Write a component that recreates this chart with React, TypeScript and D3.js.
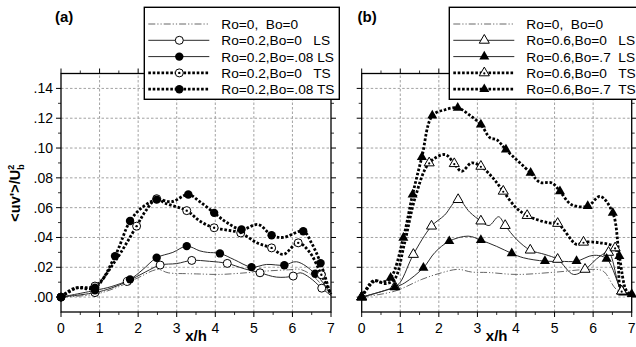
import React from 'react';
import * as d3 from 'd3';

// [x/h, <uv'>/Ub^2, marker flag]
type P = [number, number, number?];

const xTickValues = [0, 1, 2, 3, 4, 5, 6, 7];
const xMinorValues = [0.5, 1.5, 2.5, 3.5, 4.5, 5.5, 6.5];
const yTickValues = [0, 0.02, 0.04, 0.06, 0.08, 0.1, 0.12, 0.14];
const yMinorValues = [0.01, 0.03, 0.05, 0.07, 0.09, 0.11, 0.13];
const yTickLabels = ['.00', '.02', '.04', '.06', '.08', '.10', '.12', '.14'];

// Panel (a)
const aRo0Bo0: P[] = [
  [0, 0], [0.9, 0.002], [1.5, 0.007], [2.0, 0.013], [2.5, 0.0185], [2.78, 0.0163],
  [3.3, 0.0157], [3.6, 0.0155], [4.1, 0.0152], [4.64, 0.016], [5.33, 0.0175],
  [5.9, 0.0183], [6.2, 0.0186], [6.54, 0.014], [6.8, 0.007], [7, 0.002],
];
const aRo02Bo0LS: P[] = [
  [0, 0, 1], [0.88, 0.003, 1], [1.3, 0.006], [1.72, 0.0105, 1], [2.2, 0.017],
  [2.57, 0.0215, 1], [3.0, 0.0225], [3.39, 0.0246, 1], [3.85, 0.024], [4.31, 0.0226, 1],
  [4.75, 0.019], [5.16, 0.0163, 1], [5.59, 0.0134], [6.02, 0.0141, 1], [6.2, 0.0163],
  [6.45, 0.013], [6.76, 0.006, 1], [7, 0.001],
];
const aRo02Bo08LS: P[] = [
  [0, 0, 1], [0.88, 0.0045, 1], [1.3, 0.007], [1.79, 0.0119, 1], [2.1, 0.018],
  [2.48, 0.0264, 1], [2.9, 0.03], [3.26, 0.0342, 1], [3.6, 0.031], [3.8, 0.03],
  [4.12, 0.0293, 1], [4.5, 0.025], [4.94, 0.0201, 1], [5.33, 0.0219], [5.79, 0.0214, 1],
  [6.11, 0.0237], [6.59, 0.0157, 1], [7, 0.002],
];
const aRo02Bo0TS: P[] = [
  [0, 0, 1], [0.4, 0.006], [0.88, 0.0074, 1], [1.4, 0.024], [1.96, 0.0476, 1],
  [2.2, 0.058], [2.48, 0.066, 1], [2.7, 0.063], [3.26, 0.058, 1], [3.6, 0.051],
  [3.97, 0.0465, 1], [4.3, 0.045], [4.66, 0.043, 1], [5.08, 0.0364], [5.46, 0.033, 1],
  [5.76, 0.0286], [6.15, 0.0364, 1], [6.45, 0.03], [6.75, 0.015, 1], [7, 0.002],
];
const aRo02Bo08TS: P[] = [
  [0, 0, 1], [0.35, 0.006], [0.88, 0.0063, 1], [1.4, 0.0275, 1], [1.79, 0.051, 1],
  [2.1, 0.06], [2.48, 0.0654, 1], [2.87, 0.064], [3.3, 0.0688, 1], [3.6, 0.064],
  [3.97, 0.0565, 1], [4.3, 0.05], [4.68, 0.0453, 1], [5.11, 0.0487], [5.46, 0.0415, 1],
  [5.76, 0.04], [6.28, 0.0442, 1], [6.5, 0.036], [6.73, 0.0228, 1], [6.97, 0.003],
];

// Panel (b)
const bRo0Bo0: P[] = [
  [0, 0], [0.86, 0.004], [1.56, 0.0119], [2.07, 0.0163], [2.5, 0.0186], [2.85, 0.0168],
  [3.28, 0.0165], [4.02, 0.0152], [5.05, 0.0168], [5.92, 0.0186], [6.26, 0.0174],
  [6.61, 0.005], [7, 0.001],
];
const bRo06Bo0LS: P[] = [
  [0, 0, 1], [0.86, 0.007, 1], [1.0, 0.01], [1.34, 0.0286, 1], [1.81, 0.0476, 1],
  [2.15, 0.055], [2.5, 0.0654, 1], [2.8, 0.057], [3.09, 0.051, 1], [3.3, 0.048],
  [3.55, 0.0539], [3.72, 0.048, 1], [4.02, 0.0386], [4.37, 0.0315, 1], [4.75, 0.0286],
  [5.08, 0.0253, 1], [5.49, 0.0152], [5.79, 0.0186, 1], [6.18, 0.0275], [6.4, 0.03, 1],
  [6.74, 0.004, 1], [7, 0.002],
];
const bRo06Bo7LS: P[] = [
  [0, 0, 1], [0.86, 0.0065, 1], [1.12, 0.0096], [1.6, 0.0197, 1], [1.9, 0.03],
  [2.27, 0.0375, 1], [2.76, 0.0409], [3.09, 0.0382, 1], [3.5, 0.034], [3.89, 0.0293, 1],
  [4.19, 0.0264], [4.75, 0.0241, 1], [5.15, 0.024], [5.57, 0.0241, 1], [6.0, 0.028],
  [6.35, 0.0257, 1], [6.78, 0.003, 1], [7, 0.001],
];
const bRo06Bo0TS: P[] = [
  [0, 0, 1], [0.35, 0.011], [0.6, 0.009], [0.85, 0.012], [1.1, 0.035], [1.4, 0.068],
  [1.75, 0.09, 1], [2.16, 0.0956], [2.4, 0.0895, 1], [2.59, 0.0844], [2.85, 0.09],
  [3.09, 0.0877, 1], [3.4, 0.08], [3.67, 0.071, 1], [4.0, 0.06], [4.29, 0.0547, 1],
  [4.84, 0.0498], [5.08, 0.0494, 1], [5.57, 0.0353], [5.75, 0.0368, 1], [6.18, 0.0364],
  [6.57, 0.033, 1], [6.74, 0.004, 1], [7, 0.002],
];
const bRo06Bo7TS: P[] = [
  [0, 0, 1], [0.3, 0.011], [0.5, 0.01], [0.75, 0.013, 1], [1.08, 0.0398, 1],
  [1.32, 0.0688, 1], [1.56, 0.094, 1], [1.83, 0.1217, 1], [2.16, 0.1257],
  [2.49, 0.1269, 1], [2.8, 0.122], [3.09, 0.1157, 1], [3.33, 0.1068], [3.5, 0.1056],
  [3.74, 0.0989, 1], [4.38, 0.0833, 1], [4.62, 0.077], [4.93, 0.0766], [5.14, 0.071, 1],
  [5.44, 0.062], [5.86, 0.061, 1], [6.18, 0.0676], [6.51, 0.0565, 1], [6.68, 0.0275, 1],
  [6.87, 0.004], [7, 0.002, 1],
];

const legendA = ['Ro=0,  Bo=0', 'Ro=0.2,Bo=0   LS', 'Ro=0.2,Bo=.08 LS', 'Ro=0.2,Bo=0   TS', 'Ro=0.2,Bo=.08 TS'];
const legendB = ['Ro=0,  Bo=0', 'Ro=0.6,Bo=0   LS', 'Ro=0.6,Bo=.7  LS', 'Ro=0.6,Bo=0   TS', 'Ro=0.6,Bo=.7  TS'];

type LineKind = 'dashdot' | 'solid' | 'dotted';
type MarkKind = 'none' | 'circleOpen' | 'circleFilled' | 'circleDot' | 'triOpen' | 'triFilled' | 'triDot';
interface Series { data: P[]; line: LineKind; mark: MarkKind; }

const seriesA: Series[] = [
  { data: aRo0Bo0, line: 'dashdot', mark: 'none' },
  { data: aRo02Bo0LS, line: 'solid', mark: 'circleOpen' },
  { data: aRo02Bo08LS, line: 'solid', mark: 'circleFilled' },
  { data: aRo02Bo0TS, line: 'dotted', mark: 'circleDot' },
  { data: aRo02Bo08TS, line: 'dotted', mark: 'circleFilled' },
];
const seriesB: Series[] = [
  { data: bRo0Bo0, line: 'dashdot', mark: 'none' },
  { data: bRo06Bo0LS, line: 'solid', mark: 'triOpen' },
  { data: bRo06Bo7LS, line: 'solid', mark: 'triFilled' },
  { data: bRo06Bo0TS, line: 'dotted', mark: 'triDot' },
  { data: bRo06Bo7TS, line: 'dotted', mark: 'triFilled' },
];

const W = 636;
const H = 347;
const yScale = d3.scaleLinear().domain([-0.01, 0.15]).range([312, 73.5]);
const FONT = 'Liberation Sans, Arial, Helvetica, sans-serif';

function lineStyle(kind: LineKind) {
  if (kind === 'dashdot') return { stroke: '#555', strokeWidth: 0.9, strokeDasharray: '7,2,1.2,2,1.2,2' };
  if (kind === 'solid') return { stroke: '#2a2a2a', strokeWidth: 1, strokeDasharray: undefined };
  return { stroke: '#000', strokeWidth: 2.8, strokeDasharray: '2.6,1.8' };
}

const triPath = d3.symbol().type(d3.symbolTriangle).size(44)() as string;

function Marker({ kind, x, y }: { kind: MarkKind; x: number; y: number }) {
  switch (kind) {
    case 'circleOpen':
      return <circle cx={x} cy={y} r={4} fill="#fff" stroke="#000" strokeWidth={1} />;
    case 'circleFilled':
      return <circle cx={x} cy={y} r={4.2} fill="#000" />;
    case 'circleDot':
      return (
        <g>
          <circle cx={x} cy={y} r={4} fill="#fff" stroke="#000" strokeWidth={1} />
          <circle cx={x} cy={y} r={1.2} fill="#000" />
        </g>
      );
    case 'triOpen':
      return <path d={triPath} transform={`translate(${x},${y})`} fill="#fff" stroke="#000" strokeWidth={1} />;
    case 'triFilled':
      return <path d={triPath} transform={`translate(${x},${y})`} fill="#000" />;
    case 'triDot':
      return (
        <g>
          <path d={triPath} transform={`translate(${x},${y})`} fill="#fff" stroke="#000" strokeWidth={1} />
          <circle cx={x} cy={y + 0.5} r={1.1} fill="#000" />
        </g>
      );
    default:
      return null;
  }
}

interface PanelProps {
  left: number;
  right: number;
  series: Series[];
  legend: string[];
  legendLeft: number;
  legendWidth: number;
  tag: string;
  tagX: number;
  showYLabels: boolean;
}

function Panel({ left, right, series, legend, legendLeft, legendWidth, tag, tagX, showYLabels }: PanelProps) {
  const x = d3.scaleLinear().domain([0, 7]).range([left, right]);
  const [yb, yt] = yScale.range();
  const line = d3
    .line<P>()
    .x((d) => x(d[0]))
    .y((d) => yScale(d[1]))
    .curve(d3.curveCatmullRom.alpha(0.5));

  const gridStyle = { stroke: '#8a8a8a', strokeWidth: 0.8, strokeDasharray: '2.5,2' };
  const legendTop = 7.3;
  const rowY = (i: number) => legendTop + 16.7 + i * 16.3;

  return (
    <g>
      {/* grid */}
      {xTickValues.slice(1, -1).map((v) => (
        <line key={`gx${v}`} x1={x(v)} x2={x(v)} y1={yb} y2={yt} {...gridStyle} />
      ))}
      {yTickValues.map((v) => (
        <line key={`gy${v}`} x1={left} x2={right} y1={yScale(v)} y2={yScale(v)} {...gridStyle} />
      ))}

      {/* data */}
      {series.map((s, i) => {
        const st = lineStyle(s.line);
        return (
          <path key={`l${i}`} d={line(s.data) as string} fill="none" stroke={st.stroke}
            strokeWidth={st.strokeWidth} strokeDasharray={st.strokeDasharray} />
        );
      })}
      {series.map((s, i) =>
        s.data
          .filter((d) => d[2])
          .map((d, j) => <Marker key={`m${i}-${j}`} kind={s.mark} x={x(d[0])} y={yScale(d[1])} />)
      )}

      {/* frame */}
      <rect x={left} y={yt} width={right - left} height={yb - yt} fill="none" stroke="#000" strokeWidth={1.3} />

      {/* ticks, outward on all sides */}
      {xTickValues.map((v) => (
        <g key={`tx${v}`}>
          <line x1={x(v)} x2={x(v)} y1={yb} y2={yb + 5} stroke="#000" strokeWidth={1} />
          <line x1={x(v)} x2={x(v)} y1={yt} y2={yt - 5} stroke="#000" strokeWidth={1} />
          <text x={x(v)} y={333} textAnchor="middle" fontSize={14} fontFamily={FONT} fill="#000">{v}</text>
        </g>
      ))}
      {xMinorValues.map((v) => (
        <g key={`mx${v}`}>
          <line x1={x(v)} x2={x(v)} y1={yb} y2={yb + 3} stroke="#000" strokeWidth={0.8} />
          <line x1={x(v)} x2={x(v)} y1={yt} y2={yt - 3} stroke="#000" strokeWidth={0.8} />
        </g>
      ))}
      {yTickValues.map((v, i) => (
        <g key={`ty${v}`}>
          <line x1={left - 5} x2={left} y1={yScale(v)} y2={yScale(v)} stroke="#000" strokeWidth={1} />
          <line x1={right} x2={right + 5} y1={yScale(v)} y2={yScale(v)} stroke="#000" strokeWidth={1} />
          {showYLabels && (
            <text x={left - 8} y={yScale(v) + 5} textAnchor="end" fontSize={14} fontFamily={FONT} fill="#000">
              {yTickLabels[i]}
            </text>
          )}
        </g>
      ))}
      {yMinorValues.map((v) => (
        <g key={`my${v}`}>
          <line x1={left - 3} x2={left} y1={yScale(v)} y2={yScale(v)} stroke="#000" strokeWidth={0.8} />
          <line x1={right} x2={right + 3} y1={yScale(v)} y2={yScale(v)} stroke="#000" strokeWidth={0.8} />
        </g>
      ))}

      {/* axis title */}
      <text x={(left + right) / 2} y={340.5} textAnchor="middle" fontSize={15} fontWeight="bold" fontFamily={FONT} fill="#000">
        x/h
      </text>

      {/* panel tag */}
      <text x={tagX} y={21.5} fontSize={15} fontWeight="bold" fontFamily={FONT} fill="#000">{tag}</text>

      {/* legend */}
      <rect x={legendLeft} y={legendTop} width={legendWidth} height={92} fill="#fff" stroke="#000" strokeWidth={1.4} />
      {legend.map((label, i) => {
        const s = series[i];
        const st = lineStyle(s.line);
        const cy = rowY(i);
        return (
          <g key={`lg${i}`}>
            <line x1={legendLeft + 4} x2={legendLeft + 65} y1={cy} y2={cy} stroke={st.stroke}
              strokeWidth={st.strokeWidth} strokeDasharray={st.strokeDasharray} />
            <Marker kind={s.mark} x={legendLeft + 35} y={cy} />
            <text x={legendLeft + 77} y={cy + 5} fontSize={13.7} fontFamily={FONT} fill="#000" style={{ whiteSpace: 'pre' }}>
              {label}
            </text>
          </g>
        );
      })}
    </g>
  );
}

export default function App() {
  return (
    <svg width={W} height={H} viewBox={`0 0 ${W} ${H}`} style={{ position: 'absolute', left: 0, top: 0, background: '#fff' }}>
      <rect x={0} y={0} width={W} height={H} fill="#fff" />
      <Panel left={61} right={331} series={seriesA} legend={legendA} legendLeft={144.3} legendWidth={195}
        tag="(a)" tagX={55} showYLabels />
      <Panel left={361.7} right={631.7} series={seriesB} legend={legendB} legendLeft={449.3} legendWidth={200}
        tag="(b)" tagX={357.5} showYLabels={false} />
      <text transform="translate(20,193) rotate(-90)" textAnchor="middle" fontSize={14.5} fontWeight="bold" fontFamily={FONT} fill="#000">
        {"<uv'>/U"}
        <tspan fontSize={9} dy={-6}>2</tspan>
        <tspan fontSize={9} dx={-5} dy={10}>b</tspan>
      </text>
    </svg>
  );
}
